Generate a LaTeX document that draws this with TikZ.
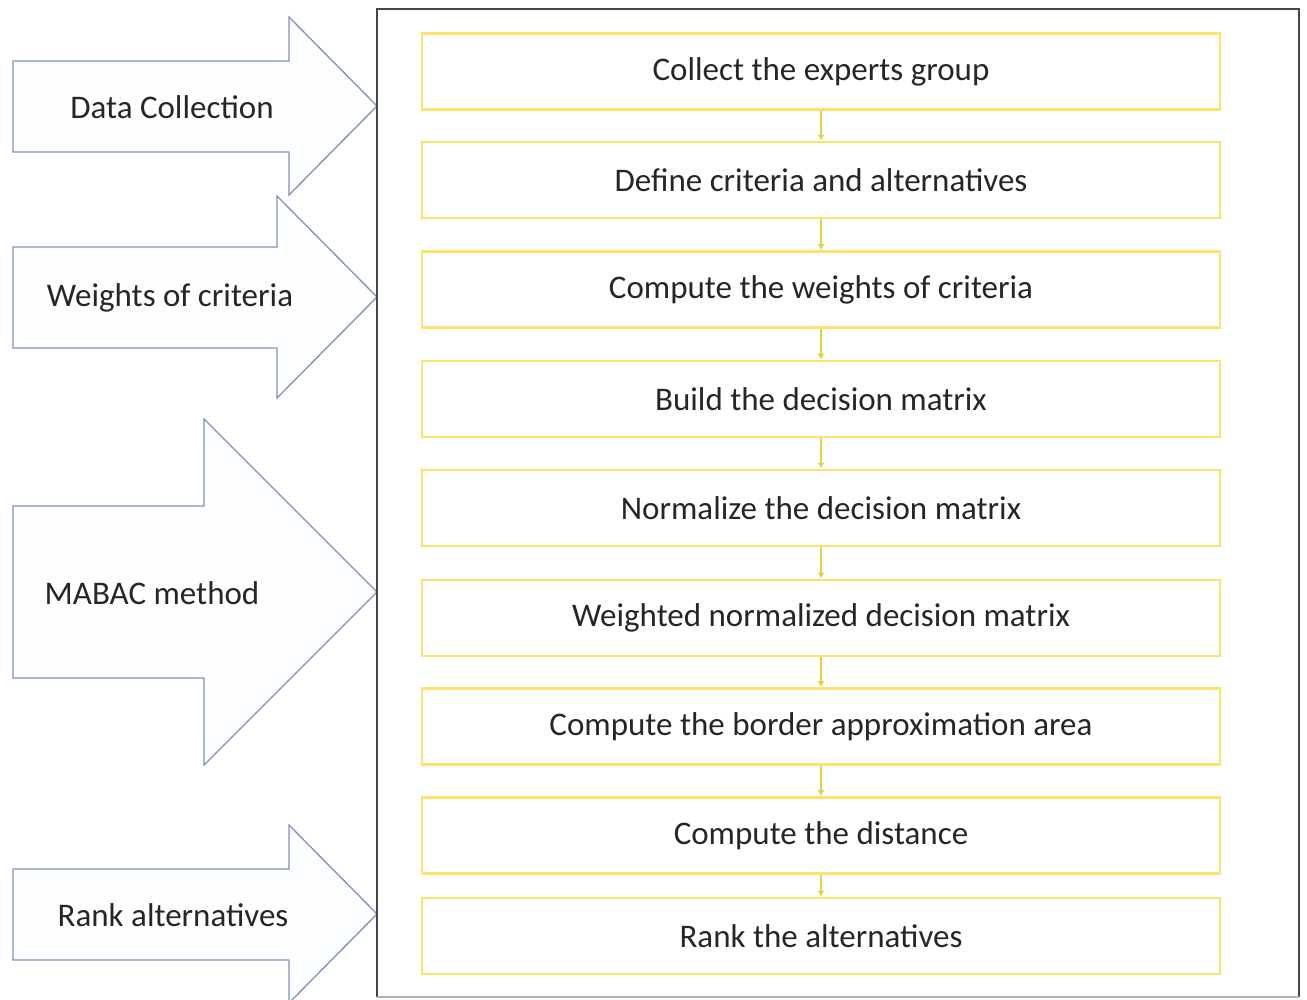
\documentclass[tikz,border=0pt]{standalone}
\usepackage{fontspec}
\setmainfont{Carlito}
\usetikzlibrary{arrows.meta}
\definecolor{arrowline}{RGB}{128,144,192}
\definecolor{arrowfill}{RGB}{253,254,255}
\definecolor{boxline}{RGB}{255,226,110}
\definecolor{conn}{RGB}{232,208,70}
\definecolor{txt}{RGB}{38,38,38}
\definecolor{frame}{RGB}{70,70,70}
\begin{document}
\begin{tikzpicture}[x=1pt,y=-1pt,
  bigarrow/.style={draw=arrowline,fill=arrowfill,line width=1.3pt,line join=miter},
  stepbox/.style={draw=boxline,line width=2.6pt,minimum width=798pt,minimum height=76pt,inner sep=0pt,
     font=\fontsize{33}{38}\selectfont,text=txt},
  lbl/.style={font=\fontsize{33}{38}\selectfont,text=txt,inner sep=0pt},
  conn/.style={draw=conn,line width=1.4pt,-{Latex[length=6pt,width=7pt]}}]
\useasboundingbox (0,0) rectangle (1307,999);
\fill[white] (0,0) rectangle (1307,999);
% big arrows
\draw[bigarrow] (13,61) -- (289,61) -- (289,17) -- (377,106) -- (289,195) -- (289,152) -- (13,152) -- cycle;
\node[lbl] (l1) at (172,107) {Data Collection};
\draw[bigarrow] (13,247) -- (277,247) -- (277,196) -- (377,297) -- (277,398) -- (277,348) -- (13,348) -- cycle;
\node[lbl] (l2) at (170,298) {Weights of criteria};
\draw[bigarrow] (13,506) -- (204,506) -- (204,419) -- (377,592) -- (204,765) -- (204,678) -- (13,678) -- cycle;
\node[lbl] (l3) at (152,593) {MABAC method};
\draw[bigarrow] (13,869) -- (289,869) -- (289,825) -- (377,914) -- (289,1003) -- (289,960) -- (13,960) -- cycle;
\node[lbl] (l4) at (173,915) {Rank alternatives};
% frame
\draw[frame,line width=1.8pt] (377,997) -- (377,9) -- (1299,9) -- (1299,997);
\draw[gray!60,line width=1.2pt] (377,997) -- (1299,997);
% steps
\node[stepbox] (s1) at (821,71.5) {Collect the experts group};
\node[stepbox] (s2) at (821,180) {Define criteria and alternatives};
\node[stepbox] (s3) at (821,289.5) {Compute the weights of criteria};
\node[stepbox] (s4) at (821,399) {Build the decision matrix};
\node[stepbox] (s5) at (821,508) {Normalize the decision matrix};
\node[stepbox] (s6) at (821,618) {Weighted normalized decision matrix};
\node[stepbox] (s7) at (821,726.5) {Compute the border approximation area};
\node[stepbox] (s8) at (821,835.5) {Compute the distance};
\node[stepbox] (s9) at (821,936) {Rank the alternatives};
\foreach \a/\b in {s1/s2,s2/s3,s3/s4,s4/s5,s5/s6,s6/s7,s7/s8,s8/s9}
  \draw[conn] (\a.south) -- (\b.north);
\end{tikzpicture}
\end{document}
